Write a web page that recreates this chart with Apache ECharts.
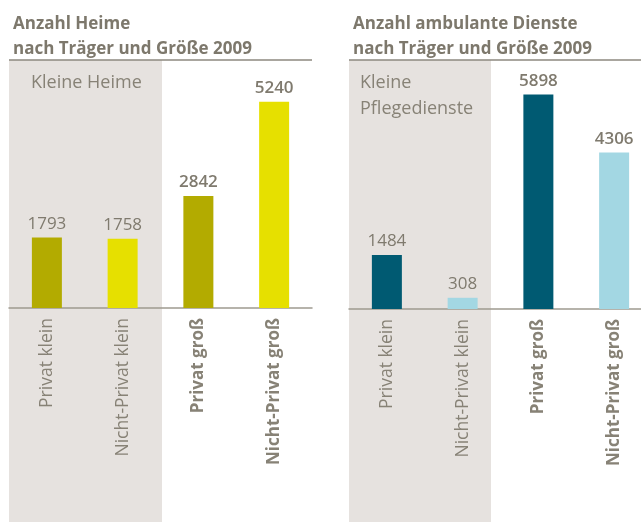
<!DOCTYPE html>
<html><head><meta charset="utf-8">
<script src="https://cdn.jsdelivr.net/npm/echarts@6/dist/echarts.min.js"></script>
<style>html,body{margin:0;padding:0;background:#fff}#c{width:641px;height:522px}</style>
</head><body><div id="c"></div>
<script>
const categories = ['Privat klein', 'Nicht-Privat klein', 'Privat groß', 'Nicht-Privat groß'];
const heimeValues = [1793, 1758, 2842, 5240];
const diensteValues = [1484, 308, 5898, 4306];
const titleHeime = 'Anzahl Heime\nnach Träger und Größe 2009';
const titleDienste = 'Anzahl ambulante Dienste\nnach Träger und Größe 2009';
const noteHeime = 'Kleine Heime';
const noteDienste = 'Kleine\nPflegedienste';

const FONT = '"Open Sans", sans-serif';
const heimeColors = ['#b3ab00', '#e6e000', '#b3ab00', '#e6e000'];
const diensteColors = ['#005a72', '#a3d7e3', '#005a72', '#a3d7e3'];
const textGrey = '#878276';

function mkData(vals, colors) {
  return vals.map((v, i) => ({
    value: v,
    itemStyle: { color: colors[i] },
    label: { fontWeight: categories[i].indexOf('groß') >= 0 ? 600 : 'normal' }
  }));
}
function xAxisOf(idx) {
  return {
    type: 'category', gridIndex: idx, data: categories,
    axisLine: { lineStyle: { color: '#9e9a90', width: 1.5 } },
    axisTick: { show: false },
    axisLabel: {
      rotate: 90, margin: 10, interval: 0,
      formatter: v => v.indexOf('groß') >= 0 ? '{b|' + v + '}' : '{n|' + v + '}',
      rich: {
        n: { fontFamily: FONT, fontSize: 17.5, color: textGrey },
        b: { fontFamily: FONT, fontSize: 17, color: textGrey, fontWeight: 'bold' }
      }
    }
  };
}
function yAxisOf(idx, max) {
  return { type: 'value', gridIndex: idx, min: 0, max: max, show: false, splitLine: { show: false } };
}
const chart = echarts.init(document.getElementById('c'), null, { renderer: 'canvas' });
chart.setOption({
  animation: false,
  textStyle: { fontFamily: FONT },
  title: [
    { text: titleHeime, left: 8, top: 7, textStyle: { fontFamily: FONT, fontSize: 17, fontWeight: 'bold', color: '#7d786c', lineHeight: 25 } },
    { text: titleDienste, left: 348, top: 7, textStyle: { fontFamily: FONT, fontSize: 17, fontWeight: 'bold', color: '#7d786c', lineHeight: 25 } }
  ],
  grid: [
    { left: 9, top: 60, width: 303, height: 248, outerBoundsMode: 'none' },
    { left: 349, top: 60, width: 303, height: 249, outerBoundsMode: 'none' }
  ],
  xAxis: [xAxisOf(0), xAxisOf(1)],
  yAxis: [yAxisOf(0, 6300), yAxisOf(1, 6850)],
  graphic: [
    { type: 'rect', z: -1, shape: { x: 9, y: 60, width: 153, height: 462 }, style: { fill: '#e6e2df' } },
    { type: 'rect', z: -1, shape: { x: 349, y: 60, width: 142, height: 462 }, style: { fill: '#e6e2df' } },
    { type: 'line', shape: { x1: 9, y1: 60, x2: 312, y2: 60 }, style: { stroke: '#8d897f', lineWidth: 1.5 } },
    { type: 'line', shape: { x1: 349, y1: 60, x2: 641, y2: 60 }, style: { stroke: '#8d897f', lineWidth: 1.5 } },
    { type: 'text', left: 31, top: 74, style: { text: noteHeime, fontFamily: FONT, fontSize: 18, fill: textGrey } },
    { type: 'text', left: 360, top: 70, style: { text: noteDienste, fontFamily: FONT, fontSize: 18, lineHeight: 26, fill: textGrey } }
  ],
  series: [
    { type: 'bar', xAxisIndex: 0, yAxisIndex: 0, barWidth: 30, data: mkData(heimeValues, heimeColors),
      label: { show: true, position: 'top', distance: 5, fontFamily: FONT, fontSize: 17, color: '#7f7a6e' } },
    { type: 'bar', xAxisIndex: 1, yAxisIndex: 1, barWidth: 30, data: mkData(diensteValues, diensteColors),
      label: { show: true, position: 'top', distance: 5, fontFamily: FONT, fontSize: 17, color: '#7f7a6e' } }
  ]
});
</script></body></html>
